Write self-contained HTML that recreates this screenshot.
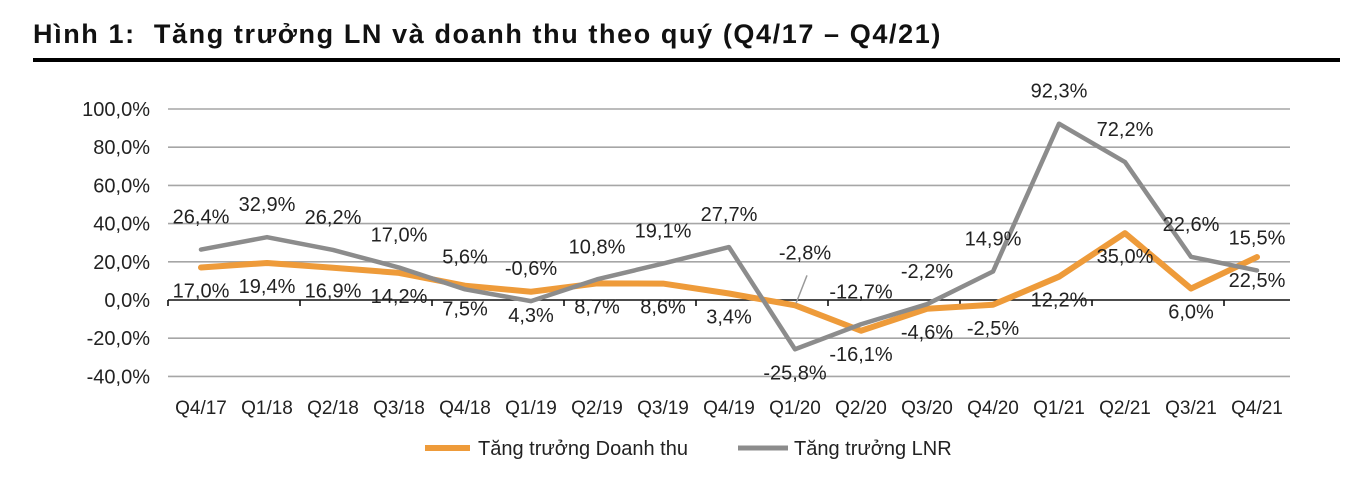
<!DOCTYPE html>
<html><head><meta charset="utf-8"><style>
html,body{margin:0;padding:0;background:#fff;}
body{width:1372px;height:490px;overflow:hidden;position:relative;font-family:"Liberation Sans",sans-serif;}
#title{position:absolute;left:33px;top:19px;font-size:27px;letter-spacing:1.6px;font-weight:bold;color:#111;white-space:pre;}
#rule{position:absolute;left:33px;top:58px;width:1307px;height:4px;background:#000;}
svg{position:absolute;left:0;top:0;}
text{font-family:"Liberation Sans",sans-serif;fill:#222;}
</style></head><body>
<div id="title">Hình 1:  Tăng trưởng LN và doanh thu theo quý (Q4/17 – Q4/21)</div>
<div id="rule"></div>
<svg id="chart" width="1372" height="490"></svg>
<script>
const categories=["Q4/17","Q1/18","Q2/18","Q3/18","Q4/18","Q1/19","Q2/19","Q3/19","Q4/19","Q1/20","Q2/20","Q3/20","Q4/20","Q1/21","Q2/21","Q3/21","Q4/21"];
const revenue=[17.0,19.4,16.9,14.2,7.5,4.3,8.7,8.6,3.4,-2.8,-16.1,-4.6,-2.5,12.2,35.0,6.0,22.5];
const profit=[26.4,32.9,26.2,17.0,5.6,-0.6,10.8,19.1,27.7,-25.8,-12.7,-2.2,14.9,92.3,72.2,22.6,15.5];
const revenueLabelSide=["b","b","b","b","b","b","b","b","b","lead","b","b","b","b","b","b","b"];
const profitLabelSide=["a","a","a","a","a","a","a","a","a","b","a","a","a","a","a","a","a"];
const yTicks=[100,80,60,40,20,0,-20,-40];
const NS="http://www.w3.org/2000/svg";
const svg=document.getElementById('chart');
const left=168,band=66;
const x=i=>left+band*(i+0.5);
const y=v=>300-v*1.91;
const fmt=v=>v.toFixed(1).replace('.',',')+'%';
function mk(tag,attrs,parent){const e=document.createElementNS(NS,tag);for(const k in attrs)e.setAttribute(k,attrs[k]);(parent||svg).appendChild(e);return e;}
yTicks.forEach(t=>{
 if(t!==0){const g=mk('line',{x1:left,x2:left+band*categories.length,y1:y(t),y2:y(t),stroke:'#a6a6a6','stroke-width':1.6});
 
 }
 const tx=mk('text',{x:150,y:y(t)+7,'text-anchor':'end','font-size':20});
 tx.textContent=fmt(t);
 
 
});
const ax=mk('line',{x1:left,x2:left+band*categories.length,y1:y(0),y2:y(0),stroke:'#111','stroke-width':1.6});


for(let i=0;i<=categories.length;i+=2){const tk=mk('line',{x1:left+band*i,x2:left+band*i,y1:y(0),y2:y(0)+6,stroke:'#111','stroke-width':1.6});
 
 }
categories.forEach((c,i)=>{const t=mk('text',{x:x(i),y:414,'text-anchor':'middle','font-size':19});t.textContent=c;
 
 });
function series(vals,color,w,name){
 const p=mk('polyline',{points:vals.map((v,i)=>x(i)+','+y(v)).join(' '),fill:'none',stroke:color,'stroke-width':w,'stroke-linejoin':'round','stroke-linecap':'round'});
 
 
}
series(revenue,'#ee9b3a',6,'revenue-growth-line');
series(profit,'#8c8c8c',4.5,'profit-growth-line');
function labels(vals,sides,name){
 vals.forEach((v,i)=>{
  let ly;const s=sides[i];
  if(s==='a')ly=y(v)-26;else if(s==='b')ly=y(v)+30;else ly=y(v)-46;
  let lx=x(i);
  if(s==='lead'){lx=x(i)+10;
   const l=mk('line',{x1:x(i)+12,y1:y(v)-30,x2:x(i)+1,y2:y(v)-2,stroke:'#999','stroke-width':1.5});
   
   }
  const t=mk('text',{x:lx,y:ly,'text-anchor':'middle','font-size':20});
  t.textContent=fmt(v);
  
  
 });
}
labels(revenue,revenueLabelSide,'revenue-data-label');
labels(profit,profitLabelSide,'profit-data-label');
const lg=mk('g',{});


const l1=mk('line',{x1:425,x2:470,y1:448,y2:448,stroke:'#ee9b3a','stroke-width':6},lg);


const t1=mk('text',{x:478,y:455,'font-size':20},lg);t1.textContent='Tăng trưởng Doanh thu';


const l2=mk('line',{x1:738,x2:788,y1:448,y2:448,stroke:'#8c8c8c','stroke-width':5},lg);


const t2=mk('text',{x:794,y:455,'font-size':20},lg);t2.textContent='Tăng trưởng LNR';


</script>
</body></html>
